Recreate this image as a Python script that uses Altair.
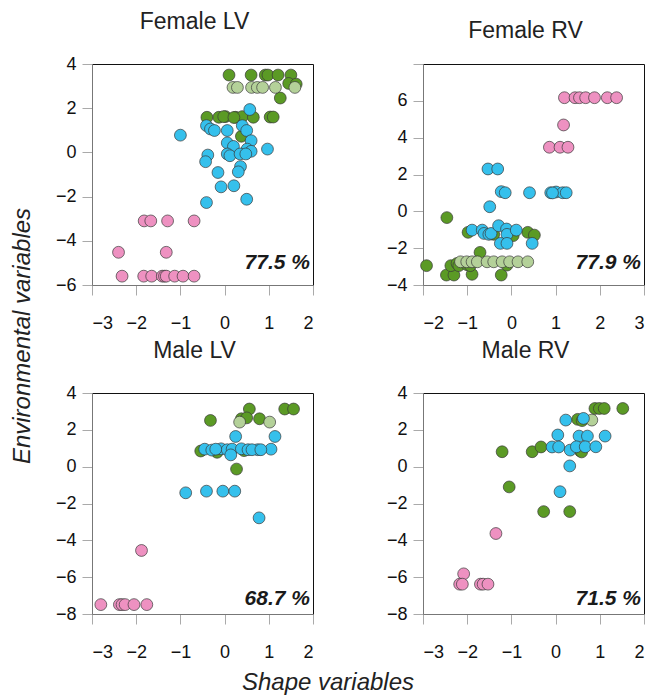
import altair as alt
import pandas as pd

FONT = "Liberation Sans"
GROUPS = ["dg", "lg", "bl", "pk"]
COLORS = ["#5b9a25", "#b4d199", "#35c0ec", "#ee91c1"]

# ---- Female LV ----
flv_dg_x = [0.10, 0.60, 0.92, 0.98, 1.21, 1.50, 1.45, 1.62, 1.26, -0.40, -0.13, 0.02, 0.25, 0.40, 0.65, 1.03, 1.10, 0.38, -0.02, 0.21]
flv_dg_y = [3.50, 3.50, 3.50, 3.50, 3.50, 3.50, 3.12, 3.09, 2.46, 1.59, 1.59, 1.62, 1.59, 1.62, 1.59, 1.60, 1.60, 0.73, 1.62, 1.58]
flv_lg_x = [0.19, 0.29, 0.61, 0.74, 0.86, 1.15, 1.59]
flv_lg_y = [2.94, 2.94, 2.94, 2.94, 2.94, 2.94, 2.94]
flv_bl_x = [0.57, -1.00, -0.41, -0.32, -0.23, 0.06, 0.40, 0.50, 0.06, 0.60, 0.20, 0.51, 0.60, 0.06, 0.12, 0.35, 0.48, 0.97, -0.38, -0.43, 0.36, 0.31, -0.15, -0.08, 0.21, 0.50, -0.41]
flv_bl_y = [1.94, 0.78, 1.21, 1.06, 0.99, 0.99, 1.21, 0.99, 0.43, 0.53, 0.27, 0.15, 0.05, -0.07, -0.15, -0.07, -0.07, 0.15, -0.12, -0.42, -0.64, -0.88, -0.91, -1.56, -1.51, -2.12, -2.27]
flv_pk_x = [-1.82, -1.67, -1.29, -0.69, -2.40, -1.32, -2.32, -1.83, -1.65, -1.41, -1.36, -1.32, -1.13, -0.94, -0.69]
flv_pk_y = [-3.1, -3.1, -3.1, -3.1, -4.52, -4.52, -5.6, -5.6, -5.6, -5.6, -5.6, -5.6, -5.6, -5.6, -5.6]

# ---- Female RV ----
frv_dg_x = [-1.92, -1.46, -1.47, -1.30, -0.89, -0.23, -1.37, -1.23, -1.19, -1.00, -0.71, -0.98, 0.04, 0.37, 0.52, -0.10, -0.93, -0.40]
frv_dg_y = [-2.95, -0.34, -3.46, -3.46, -3.42, -3.46, -2.95, -2.83, -2.95, -2.90, -2.23, -1.14, -1.32, -1.14, -1.29, -2.92, -2.95, -1.25]
frv_lg_x = [-1.15, -1.01, -0.89, -0.77, -0.55, -0.40, -0.21, -0.04, 0.15, 0.37]
frv_lg_y = [-2.74, -2.74, -2.74, -2.74, -2.74, -2.74, -2.74, -2.74, -2.74, -2.74]
frv_bl_x = [-0.53, -0.31, -0.23, -0.14, 0.41, 0.89, 1.01, 1.16, 1.24, -0.49, -0.89, -0.66, -0.62, -0.51, -0.46, -0.29, -0.11, -0.10, 0.11, -0.25, -0.10, 0.47, 0.93]
frv_bl_y = [2.30, 2.30, 1.07, 1.01, 1.01, 1.01, 1.05, 1.01, 1.01, 0.25, -1.02, -1.02, -1.20, -1.25, -1.20, -0.78, -0.96, -1.25, -1.02, -1.74, -1.74, -1.74, 1.00]
frv_pk_x = [1.20, 1.44, 1.54, 1.68, 1.88, 2.17, 2.38, 1.18, 0.86, 1.10, 1.28]
frv_pk_y = [6.17, 6.17, 6.17, 6.17, 6.17, 6.17, 6.17, 4.69, 3.48, 3.48, 3.48]

# ---- Male LV ----
mlv_dg_x = [0.56, 1.36, 1.56, -0.32, 0.38, 0.50, 0.79, -0.54, -0.17, 0.44, 0.27]
mlv_dg_y = [3.13, 3.13, 3.13, 2.51, 2.60, 2.65, 2.60, 0.85, 0.78, 0.87, -0.13]
mlv_lg_x = [0.34, 1.02]
mlv_lg_y = [2.42, 2.42]
mlv_bl_x = [0.25, 1.14, -0.45, -0.29, -0.08, 0.06, 0.17, 0.38, 0.53, 0.75, 1.05, 0.14, -0.88, -0.41, -0.04, 0.23, 0.78, 0.62, 0.82, -0.20]
mlv_bl_y = [1.64, 1.64, 0.95, 0.90, 0.97, 0.92, 0.95, 0.97, 0.92, 0.92, 0.95, 0.64, -1.42, -1.33, -1.33, -1.33, -2.78, 0.92, 0.92, 0.95]
mlv_pk_x = [-1.88, -2.80, -2.38, -2.32, -2.25, -2.05, -1.76]
mlv_pk_y = [-4.55, -7.49, -7.49, -7.49, -7.49, -7.49, -7.49]

# ---- Male RV ----
mrv_dg_x = [0.89, 0.99, 1.10, 1.52, 0.50, -1.21, -0.53, -0.33, 0.56, 0.59, -1.05, -0.27, 0.32, 0.60]
mrv_dg_y = [3.16, 3.16, 3.16, 3.16, 2.57, 0.81, 0.81, 1.07, 0.85, 0.80, -1.10, -2.44, -2.44, 2.50]
mrv_lg_x = [0.82]
mrv_lg_y = [2.53]
mrv_bl_x = [0.23, 0.63, 0.05, 0.53, 0.72, 1.12, -0.08, 0.07, 0.33, 0.47, 0.67, 0.91, 0.32, 0.10]
mrv_bl_y = [2.53, 2.62, 1.72, 1.66, 1.66, 1.66, 1.07, 1.07, 0.90, 1.08, 1.08, 1.08, 0.04, -1.36]
mrv_pk_x = [-1.35, -2.08, -2.17, -2.11, -1.70, -1.64, -1.53]
mrv_pk_y = [-3.63, -5.82, -6.38, -6.38, -6.38, -6.38, -6.38]

panel_titles = ["Female LV", "Female RV", "Male LV", "Male RV"]
panel_pcts = ["77.5 %", "77.9 %", "68.7 %", "71.5 %"]


def frame(prefix):
    rows = []
    g = globals()
    for grp in GROUPS:
        for xv, yv in zip(g[f"{prefix}_{grp}_x"], g[f"{prefix}_{grp}_y"]):
            rows.append({"x": xv, "y": yv, "g": grp})
    return pd.DataFrame(rows)


W, H = 221, 221


def panel(prefix, title, pct, xdom, ydom, yticks, text_y, ylabel_expr=None):
    df = frame(prefix)
    yaxis_kw = dict(values=yticks, title=None, grid=False, labelPadding=6)
    if ylabel_expr:
        yaxis_kw["labelExpr"] = ylabel_expr
    pts = alt.Chart(df).mark_circle(
        size=140, opacity=1, stroke="#3a3a3a", strokeWidth=0.7
    ).encode(
        x=alt.X("x:Q", scale=alt.Scale(domain=xdom, nice=False, zero=False),
                axis=alt.Axis(values=list(range(xdom[0], xdom[1] + 1)), title=None,
                              grid=False, labelPadding=19)),
        y=alt.Y("y:Q", scale=alt.Scale(domain=ydom, nice=False, zero=False),
                axis=alt.Axis(**yaxis_kw)),
        color=alt.Color("g:N", scale=alt.Scale(domain=GROUPS, range=COLORS), legend=None),
    )
    txt = alt.Chart(pd.DataFrame({"t": [pct]})).mark_text(
        align="right", baseline="alphabetic", font=FONT, fontSize=21,
        fontWeight="bold", fontStyle="italic", color="#1a1a1a"
    ).encode(x=alt.value(218), y=alt.value(text_y), text="t:N")
    return alt.layer(pts, txt).properties(
        width=W, height=H,
        title=alt.TitleParams(title, font=FONT, fontSize=23, fontWeight="normal",
                              color="#222222", anchor="middle", dx=-8, offset=21),
    )


p1 = panel("flv", panel_titles[0], panel_pcts[0], [-3, 2], [-6, 4], [-6, -4, -2, 0, 2, 4], 205)
p2 = panel("frv", panel_titles[1], panel_pcts[1], [-2, 3], [-4, 8], [-4, -2, 0, 2, 4, 6, 8], 205,
           ylabel_expr="datum.value == 8 ? '' : datum.label")
p3 = panel("mlv", panel_titles[2], panel_pcts[2], [-3, 2], [-8, 4], [-8, -6, -4, -2, 0, 2, 4], 212)
p4 = panel("mrv", panel_titles[3], panel_pcts[3], [-3, 2], [-8, 4], [-8, -6, -4, -2, 0, 2, 4], 212)

row1 = alt.hconcat(p1, p2, spacing=71)
row2 = alt.hconcat(p3, p4, spacing=71)
inner = alt.vconcat(row1, row2, spacing=6).properties(
    title=alt.TitleParams("Environmental variables", orient="left", anchor="middle",
                          font=FONT, fontSize=24, fontStyle="italic",
                          fontWeight="normal", color="#222222", offset=20)
)
chart = alt.vconcat(inner).properties(
    title=alt.TitleParams("Shape variables", orient="bottom", anchor="middle",
                          font=FONT, fontSize=24, fontStyle="italic",
                          fontWeight="normal", color="#222222", offset=9),
    padding={"left": 2, "top": 2, "right": 2, "bottom": 0},
).configure_view(
    stroke="#111111", strokeWidth=1
).configure_axis(
    labelFont=FONT, labelFontSize=18, labelColor="#111111",
    domainColor="#777777", tickColor="#aaaaaa", tickSize=10,
)

chart.save("out.html", embed_options={"renderer": "svg", "actions": False})
